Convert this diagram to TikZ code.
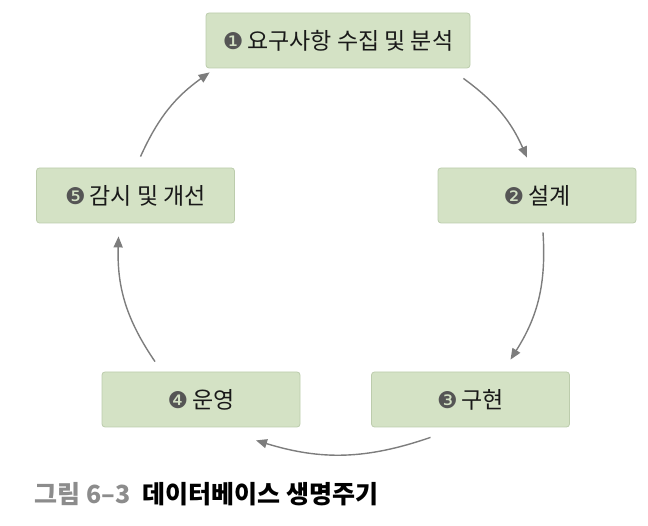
\documentclass[tikz,border=0pt]{standalone}
\usepackage{fontspec}
\setmainfont{Noto Sans CJK KR}
\newfontfamily\dingfont{DejaVu Sans}
\usetikzlibrary{arrows.meta}
\definecolor{boxfill}{RGB}{212,226,197}
\definecolor{boxline}{RGB}{188,204,172}
\definecolor{arrowgray}{RGB}{125,125,125}
\definecolor{numgray}{RGB}{85,85,85}
\definecolor{capgray}{RGB}{140,140,140}
\newcommand{\stepnum}[1]{{\dingfont\color{numgray}#1}\,}

\begin{document}
\begin{tikzpicture}[x=1pt, y=-1pt,
		phase/.style = {draw = boxline, fill = boxfill, rounded corners = 3pt, line width = 0.8pt,
			minimum width = 198pt, minimum height = 55pt, font = \fontsize{23}{26}\selectfont, text = black!90},
		flow/.style = {draw = arrowgray, line width = 1.4pt, -{Triangle[length = 11pt, width = 9pt]}}]
			\useasboundingbox (0,0) rectangle (648,526);
			\node[phase, minimum width = 264pt] (req) at (338,40.5) {\stepnum{❶}요구사항 수집 및 분석};
			\node[phase] (design) at (537,195.5) {\stepnum{❷}설계};
			\node[phase] (impl) at (470.5,399.5) {\stepnum{❸}구현};
			\node[phase] (oper) at (201,399.5) {\stepnum{❹}운영};
			\node[phase] (monitor) at (135.5,195.5) {\stepnum{❺}감시 및 개선};
			\draw[flow] ([xshift = -7pt, yshift = -10pt]req.south east) to[bend left = 15] ([xshift = -10pt, yshift = 10pt]design.north);
			\draw[flow] ([xshift = 6pt, yshift = -9pt]design.south) to[bend left = 18] ([xshift = 40pt, yshift = 12pt]impl.north);
			\draw[flow] ([xshift = -40pt, yshift = -10pt]impl.south) to[bend left = 18] ([xshift = 55pt, yshift = -13pt]oper.south);
			\draw[flow] ([xshift = -46pt, yshift = 10pt]oper.north) to[bend left = 18] ([xshift = -17pt, yshift = -13pt]monitor.south);
			\draw[flow] ([xshift = 5pt, yshift = 11pt]monitor.north) to[bend left = 15] ([xshift = 4pt, yshift = -4pt]req.south west);
			\node[anchor = west, font = \fontsize{25}{28}\selectfont\bfseries] (caption) at (31,494) {{\color{capgray}그림 6–3}\hspace{12pt}데이터베이스 생명주기};
		\end{tikzpicture}
\end{document}
